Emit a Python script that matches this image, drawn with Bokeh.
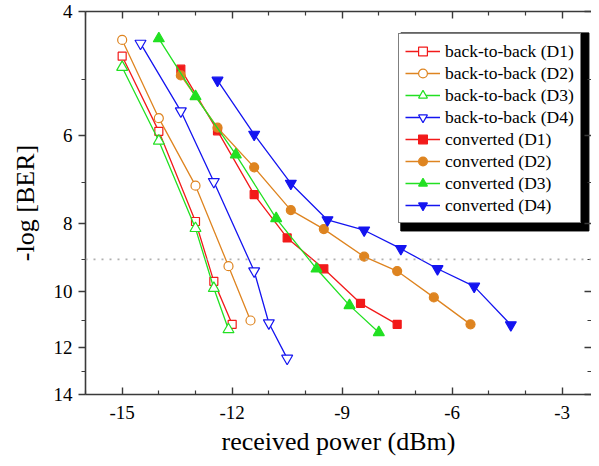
from bokeh.plotting import figure
from bokeh.models import (Range1d, FixedTicker, LinearAxis, LogAxis,
                          Legend, LegendItem, Span, PrintfTickFormatter)
from bokeh.embed import file_html
from bokeh.resources import INLINE

# ---------------- data ----------------
b2b_d1_x = [-15, -14, -13, -12.5, -12]
b2b_d1_y = [4.63, 5.92, 7.95, 9.67, 11.13]
b2b_d2_x = [-15, -14, -13, -12.1, -11.5]
b2b_d2_y = [4.39, 5.67, 7.07, 9.20, 10.99]
b2b_d3_x = [-15, -14, -13, -12.5, -12.1]
b2b_d3_y = [4.80, 6.11, 8.13, 9.89, 11.32]
b2b_d4_x = [-14.5, -13.4, -12.5, -11.4, -11.0, -10.5]
b2b_d4_y = [4.44, 5.54, 6.98, 9.35, 11.08, 12.44]
conv_d1_x = [-13.4, -12.4, -11.4, -10.5, -9.5, -8.5, -7.5]
conv_d1_y = [4.83, 5.91, 7.28, 8.39, 9.28, 10.39, 11.13]
conv_d2_x = [-13.4, -12.4, -11.4, -10.4, -9.5, -8.4, -7.5, -6.5, -5.5]
conv_d2_y = [4.93, 5.85, 6.66, 7.66, 8.15, 8.92, 9.35, 10.19, 11.13]
conv_d3_x = [-14, -13, -11.9, -10.8, -9.7, -8.8, -8.0]
conv_d3_y = [4.37, 5.28, 6.39, 7.87, 9.28, 10.46, 11.43]
conv_d4_x = [-12.4, -11.4, -10.4, -9.4, -8.4, -7.4, -6.4, -5.4, -4.4]
conv_d4_y = [5.01, 5.98, 7.02, 7.91, 8.18, 8.69, 9.28, 9.83, 11.15]

series_labels = ["back-to-back (D1)", "back-to-back (D2)", "back-to-back (D3)", "back-to-back (D4)",
                 "converted (D1)", "converted (D2)", "converted (D3)", "converted (D4)"]

x_ticks = [-15, -12, -9, -6, -3]
x_minor_ticks = [-16, -14, -13, -11, -10, -8, -7, -5, -4]
y_ticks = [4, 6, 8, 10, 12, 14]
y_minor_ticks = [5, 7, 9, 11, 13]
threshold = 9

x_label = "received power (dBm)"
y_label = "-log [BER]"

# ---------------- styling ----------------
RED = "#F21A1A"
ORANGE = "#DE8420"
GREEN = "#22E022"
BLUE = "#1414F0"
AX = "#3a3a3a"
FONT = "Liberation Serif"

p = figure(width=584, height=458, x_range=Range1d(-16, -2.2), y_range=Range1d(14, 4),
           y_axis_type="log", output_backend="svg", toolbar_location=None,
           min_border_left=0, min_border_right=0, min_border_top=0, min_border_bottom=0)
p.margin = (0, 0, 0, 7)
p.grid.visible = False
p.outline_line_color = None
p.background_fill_color = "white"

# bottom axis
xa = p.xaxis[0]
xa.ticker = FixedTicker(ticks=x_ticks, minor_ticks=x_minor_ticks)
xa.formatter = PrintfTickFormatter(format="%d")
xa.major_tick_in = 7
xa.major_tick_out = 0
xa.minor_tick_in = 4
xa.minor_tick_out = 0
xa.axis_label = x_label
xa.axis_label_text_font = FONT
xa.axis_label_text_font_size = "26px"
xa.axis_label_text_font_style = "normal"
xa.axis_label_standoff = 5
xa.major_label_text_font = FONT
xa.major_label_text_font_size = "19px"
xa.major_label_standoff = 11

# left axis
ya = p.yaxis[0]
ya.ticker = FixedTicker(ticks=y_ticks, minor_ticks=y_minor_ticks)
ya.formatter = PrintfTickFormatter(format="%d")
ya.major_tick_in = 0
ya.major_tick_out = 7
ya.minor_tick_in = 0
ya.minor_tick_out = 4
ya.axis_label = y_label
ya.axis_label_text_font = FONT
ya.axis_label_text_font_size = "26px"
ya.axis_label_text_font_style = "normal"
ya.axis_label_standoff = 11
ya.major_label_text_font = FONT
ya.major_label_text_font_size = "19px"
ya.major_label_standoff = 6

for ax in (xa, ya):
    ax.axis_line_color = AX
    ax.axis_line_width = 1.6
    ax.major_tick_line_color = AX
    ax.minor_tick_line_color = AX
    ax.major_tick_line_width = 1.4
    ax.minor_tick_line_width = 1.2
    ax.major_label_text_color = "black"
    ax.axis_label_text_color = "black"

# top axis (ticks inward, no labels; a blank label keeps room above the frame)
top = LinearAxis(ticker=FixedTicker(ticks=x_ticks, minor_ticks=x_minor_ticks),
                 formatter=PrintfTickFormatter(format=""),
                 major_tick_in=7, major_tick_out=0, minor_tick_in=4, minor_tick_out=0,
                 major_label_standoff=0, major_label_text_font_size="1px",
                 axis_label=" ", axis_label_text_font_size="5px", axis_label_standoff=2,
                 axis_line_color=AX, axis_line_width=1.6,
                 major_tick_line_color=AX, minor_tick_line_color=AX,
                 major_tick_line_width=1.4, minor_tick_line_width=1.2)
p.add_layout(top, "above")

# right axis (ticks inward, no labels, spine beyond the picture)
right = LogAxis(ticker=FixedTicker(ticks=y_ticks, minor_ticks=y_minor_ticks),
                formatter=PrintfTickFormatter(format=""),
                major_tick_in=7, major_tick_out=0, minor_tick_in=4, minor_tick_out=0,
                major_label_standoff=0, axis_label_standoff=0, major_label_text_font_size="0px",
                axis_line_alpha=0,
                major_tick_line_color=AX, minor_tick_line_color=AX,
                major_tick_line_width=1.4, minor_tick_line_width=1.2)
p.add_layout(right, "right")

# threshold line
p.add_layout(Span(location=threshold, dimension="width", line_color="#b0b0b0",
                  line_width=1.8, line_dash="2 6"))

series = [
    (b2b_d1_x, b2b_d1_y, RED, "square", 8, False),
    (b2b_d2_x, b2b_d2_y, ORANGE, "circle", 9, False),
    (b2b_d3_x, b2b_d3_y, GREEN, "triangle", 11, False),
    (b2b_d4_x, b2b_d4_y, BLUE, "inverted_triangle", 11, False),
    (conv_d1_x, conv_d1_y, RED, "square", 8, True),
    (conv_d2_x, conv_d2_y, ORANGE, "circle", 9, True),
    (conv_d3_x, conv_d3_y, GREEN, "triangle", 11, True),
    (conv_d4_x, conv_d4_y, BLUE, "inverted_triangle", 11, True),
]

items = []
for (xs, ys, col, mk, sz, filled), lab in zip(series, series_labels):
    ln = p.line(xs, ys, line_color=col, line_width=1.3)
    sc = p.scatter(xs, ys, marker=mk, size=sz, line_color=col, line_width=1.2,
                   fill_color=col if filled else "white")
    items.append(LegendItem(label=lab, renderers=[ln, sc]))

# legend drop shadow (black block offset behind the legend box)
p.quad(left=[-7.40], right=[-2.27], top=[4.29], bottom=[8.2],
       fill_color="black", line_color="black")

legend = Legend(items=items, location=(313, 171), orientation="vertical",
                label_text_font=FONT, label_text_font_size="17.5px", label_text_color="black",
                glyph_width=35, glyph_height=22, label_height=22, label_standoff=5,
                spacing=0, padding=6, margin=0,
                border_line_color="black", border_line_width=1.2,
                background_fill_color="white", background_fill_alpha=1.0)
p.add_layout(legend)

open("out.html", "w").write(file_html(p, INLINE))
